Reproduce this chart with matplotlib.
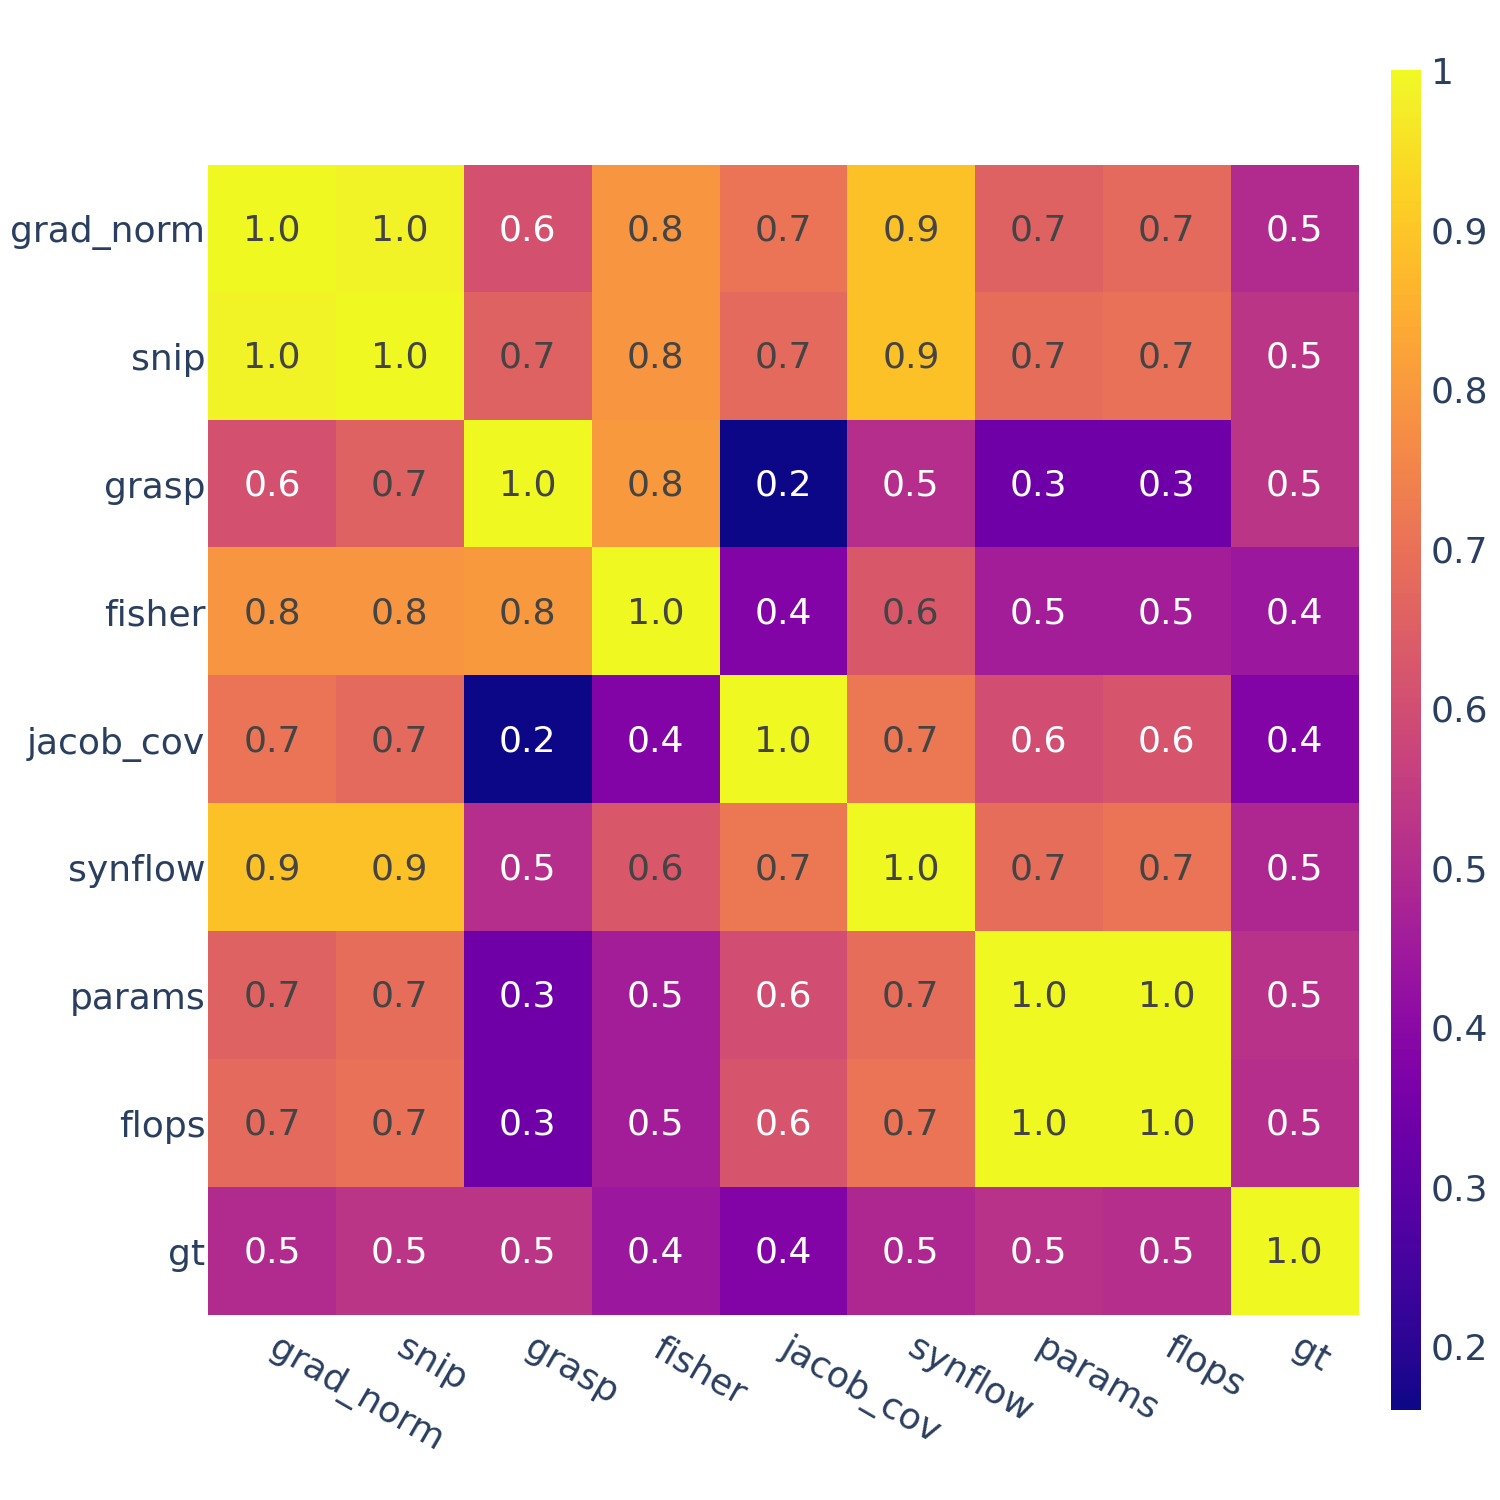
import numpy as np
import matplotlib
matplotlib.use('Agg')
import matplotlib.pyplot as plt
from matplotlib.colors import to_rgb

# 指标名称
names = ['grad_norm', 'snip', 'grasp', 'fisher', 'jacob_cov', 'synflow', 'params', 'flops', 'gt']

# 相关系数矩阵
row_grad_norm = [1.00, 0.99, 0.61, 0.79, 0.71, 0.89, 0.66, 0.68, 0.50]
row_snip = [0.99, 1.00, 0.66, 0.79, 0.68, 0.89, 0.69, 0.70, 0.53]
row_grasp = [0.61, 0.66, 1.00, 0.80, 0.16, 0.51, 0.34, 0.34, 0.53]
row_fisher = [0.79, 0.79, 0.80, 1.00, 0.38, 0.63, 0.46, 0.46, 0.44]
row_jacob_cov = [0.71, 0.68, 0.16, 0.38, 1.00, 0.72, 0.60, 0.62, 0.38]
row_synflow = [0.89, 0.89, 0.51, 0.63, 0.72, 1.00, 0.69, 0.71, 0.49]
row_params = [0.66, 0.69, 0.34, 0.46, 0.60, 0.69, 1.00, 1.00, 0.52]
row_flops = [0.68, 0.70, 0.34, 0.46, 0.62, 0.71, 1.00, 1.00, 0.51]
row_gt = [0.50, 0.53, 0.53, 0.44, 0.38, 0.49, 0.52, 0.51, 1.00]

corr = np.array([row_grad_norm, row_snip, row_grasp, row_fisher, row_jacob_cov,
                 row_synflow, row_params, row_flops, row_gt])

cbar_ticks = [0.2, 0.3, 0.4, 0.5, 0.6, 0.7, 0.8, 0.9, 1.0]
cbar_labels = ['0.2', '0.3', '0.4', '0.5', '0.6', '0.7', '0.8', '0.9', '1']

plt.rcParams['font.family'] = ['DejaVu Sans']
font_color = '#2a3f5f'
fs = 26

fig = plt.figure(figsize=(15, 15), dpi=100)
ax = fig.add_axes([0.1387, 0.1233, 0.7667, 0.7667])
cax = fig.add_axes([0.9273, 0.06, 0.02, 0.8933])

vmin, vmax = corr.min(), corr.max()
cmap = plt.get_cmap('plasma')
im = ax.imshow(corr, cmap=cmap, vmin=vmin, vmax=vmax, aspect='auto', interpolation='nearest')

# 格子里的数字，颜色按背景亮度选
for i in range(len(names)):
    for j in range(len(names)):
        v = corr[i, j]
        r, g, b = to_rgb(cmap((v - vmin) / (vmax - vmin)))
        bright = (r * 299 + g * 587 + b * 114) / 1000 * 255
        c = '#444444' if bright >= 128 else 'white'
        ax.text(j, i + 0.01, f'{v:.1f}', ha='center', va='center', color=c, fontsize=fs)

ax.set_xticks(range(len(names)))
ax.set_yticks(range(len(names)))
ax.set_xticklabels(names, rotation=-30, ha='left', va='center', rotation_mode='anchor')
ax.set_yticklabels(names)
ax.tick_params(axis='x', length=0, pad=22, labelsize=fs, labelcolor=font_color)
ax.tick_params(axis='y', length=0, pad=2, labelsize=fs, labelcolor=font_color)
for s in ax.spines.values():
    s.set_visible(False)

cb = fig.colorbar(im, cax=cax)
cb.outline.set_visible(False)
cb.set_ticks(cbar_ticks)
cb.set_ticklabels(cbar_labels)
cax.tick_params(length=0, pad=7, labelsize=fs, labelcolor=font_color)

fig.savefig('out.png', dpi=100, facecolor='white')
